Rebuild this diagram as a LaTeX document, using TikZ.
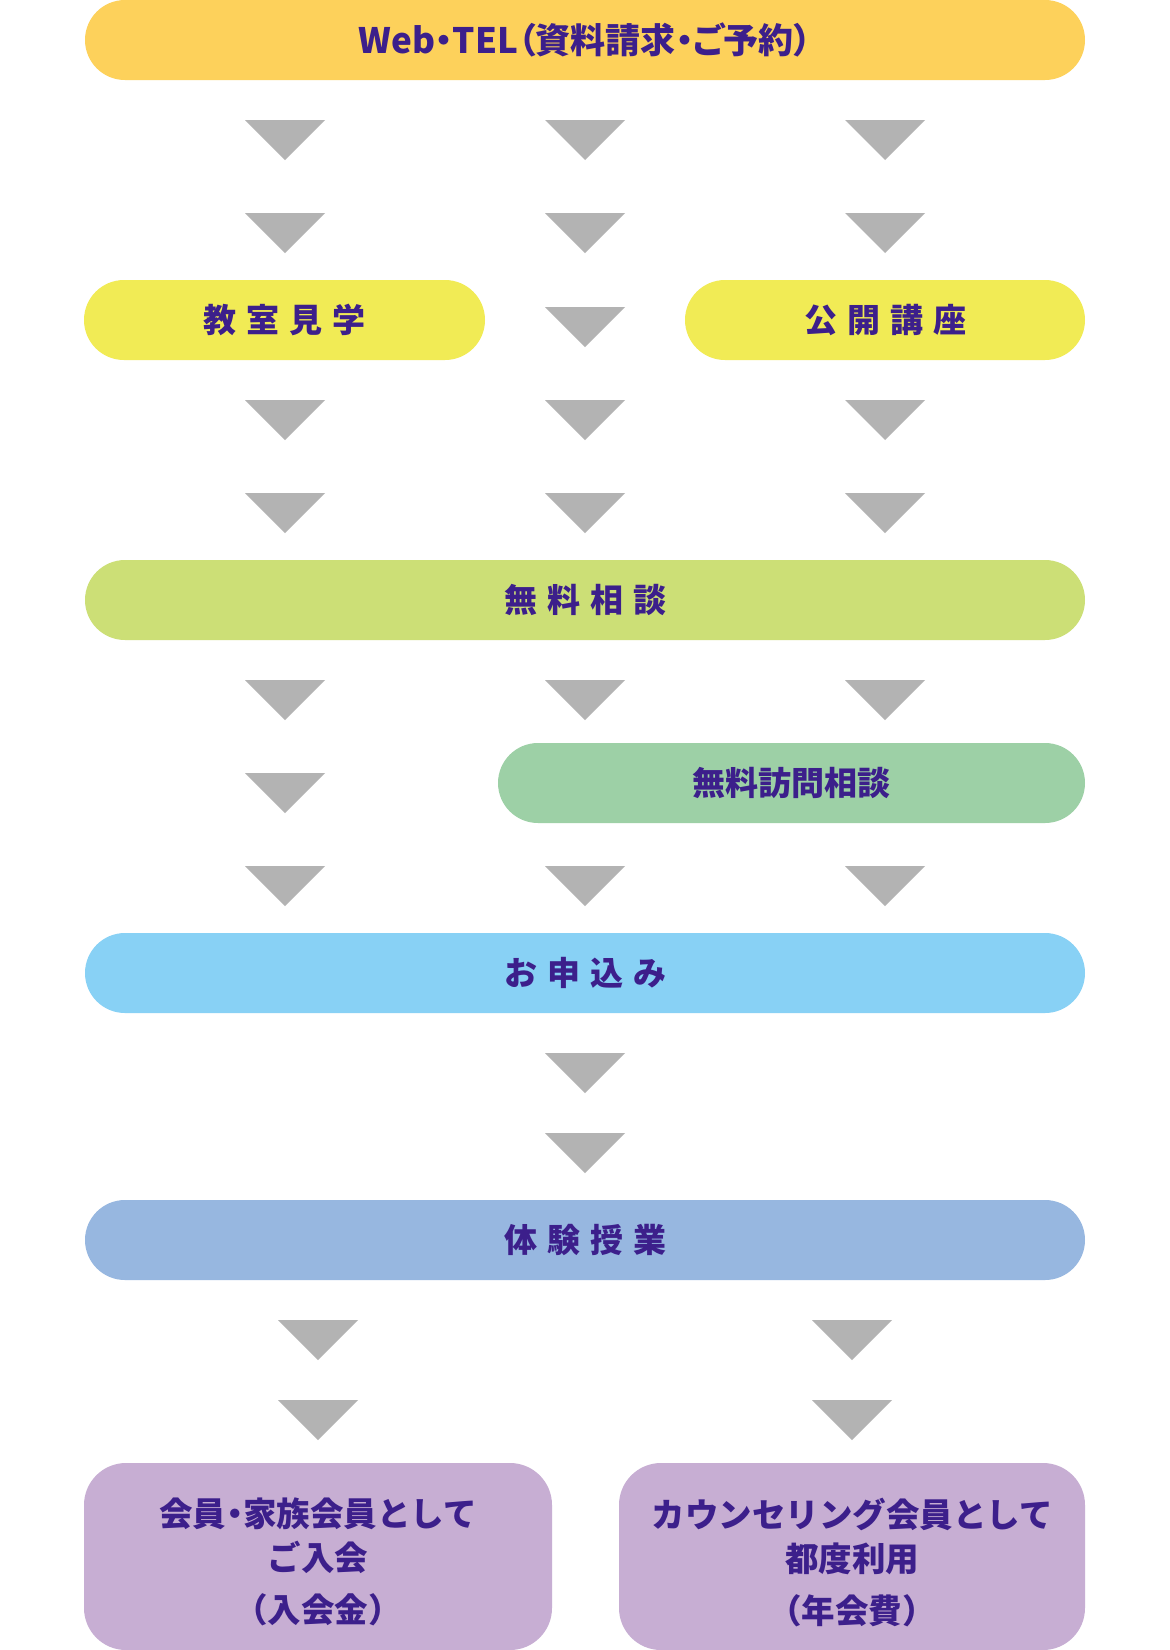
\documentclass[tikz,border=0pt]{standalone}
\usepackage{fontspec}
\newfontfamily\jp{Noto Sans CJK JP}
\definecolor{txtc}{HTML}{3C1F8B}
\definecolor{arrc}{HTML}{B3B3B3}
\definecolor{c1}{HTML}{FDD15B}
\definecolor{c2}{HTML}{F1EB55}
\definecolor{c3}{HTML}{CCDF76}
\definecolor{c4}{HTML}{9DD0A6}
\definecolor{c5}{HTML}{88D1F5}
\definecolor{c6}{HTML}{97B7E0}
\definecolor{c7}{HTML}{C7AED3}
\newcommand{\gp}{\hspace{10pt}}
\newcommand{\prop}{\addfontfeatures{RawFeature=+palt}}
\newcommand{\darr}[2]{\fill[arrc] (#1-40,#2) -- (#1+40,#2) -- (#1,#2+40) -- cycle;}
\begin{document}
\begin{tikzpicture}[x=1pt,y=-1pt,
  pill/.style={rounded corners=40pt, minimum height=80pt, inner sep=0pt,
    font=\jp\bfseries\fontsize{33}{38}\selectfont, text=txtc,
    text height=29pt, text depth=4pt},
  card/.style={rounded corners=42pt, inner sep=0pt},
  cardtxt/.style={font=\jp\bfseries\fontsize{33.5}{44}\selectfont, text=txtc, align=center, inner sep=0pt}]
\useasboundingbox (0,0) rectangle (1170,1650);
\fill[white] (0,0) rectangle (1170,1650);
% boxes
\node[pill, fill=c1, minimum width=1000pt, font=\jp\bfseries\fontsize{35}{40}\selectfont, text height=31pt, text depth=4.5pt] (web) at (585,40) {\prop Web・TEL（資料請求・ご予約）};
\node[pill, fill=c2, minimum width=401pt] (kengaku) at (284.5,320) {教\gp 室\gp 見\gp 学};
\node[pill, fill=c2, minimum width=400pt] (koukai) at (885,320) {公\gp 開\gp 講\gp 座};
\node[pill, fill=c3, minimum width=1000pt] (soudan) at (585,600) {無\gp 料\gp 相\gp 談};
\node[pill, fill=c4, minimum width=587pt] (houmon) at (791.5,783) {無料訪問相談};
\node[pill, fill=c5, minimum width=1000pt] (moushikomi) at (585,973) {お\gp 申\gp 込\gp み};
\node[pill, fill=c6, minimum width=1000pt] (taiken) at (585,1240) {体\gp 験\gp 授\gp 業};
\node[card, fill=c7, minimum width=468pt, minimum height=187pt] (kaiin) at (318,1556.5) {};
\node[card, fill=c7, minimum width=466pt, minimum height=187pt] (counsel) at (852,1556.5) {};
\node[cardtxt] (kaiintxt) at (318,1562) {会員{\prop ・}家族会員として\\ご入会\\[8pt]（入会金）};
\node[cardtxt] (counseltxt) at (852,1562) {カウンセリング会員として\\都度利用\\[8pt]（年会費）};
% arrows
\foreach \y in {120,213,400,493} {\darr{285}{\y}\darr{885}{\y}}
\foreach \y in {120,213,307,400,493} {\darr{585}{\y}}
\foreach \y in {680,866} {\darr{285}{\y}\darr{585}{\y}\darr{885}{\y}}
\darr{285}{773}
\foreach \y in {1053,1133} {\darr{585}{\y}}
\foreach \y in {1320,1400} {\darr{318}{\y}\darr{852}{\y}}
\end{tikzpicture}
\end{document}
